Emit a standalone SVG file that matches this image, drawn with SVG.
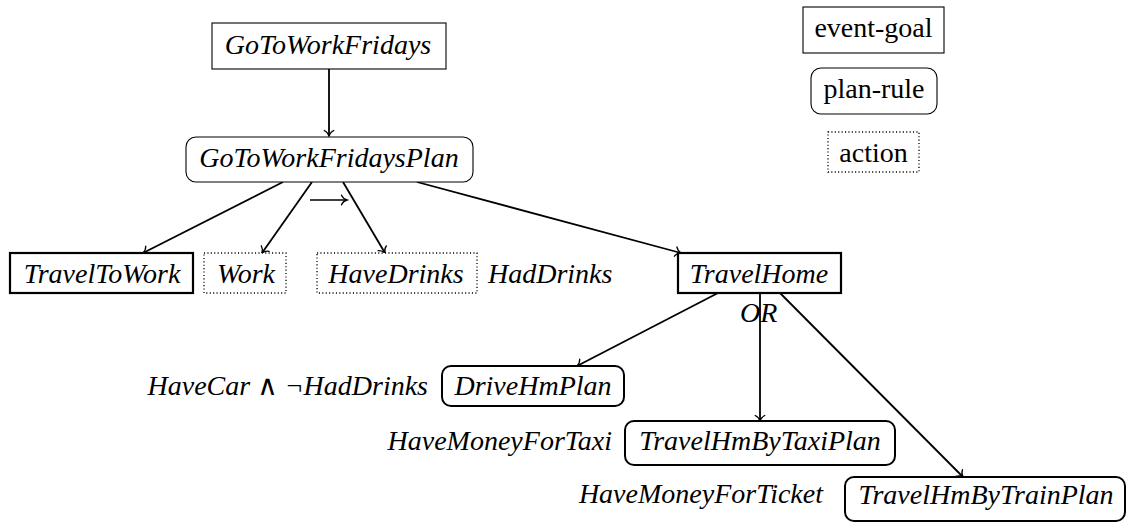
<svg xmlns="http://www.w3.org/2000/svg" width="1127" height="523" viewBox="0 0 1127 523" font-family="'Liberation Serif', 'DejaVu Serif', serif">
  <defs>
    <marker id="tip" markerUnits="userSpaceOnUse" markerWidth="14" markerHeight="14" refX="0" refY="0" viewBox="-7 -7 14 14" orient="auto" overflow="visible">
      <path d="M-5.5,-4.8 C-4.2,-2 -1.8,-0.5 0,0 C-1.8,0.5 -4.2,2 -5.5,4.8" fill="none" stroke="#000" stroke-width="1.3" stroke-linecap="round"/>
    </marker>
  </defs>
  <style>
    .t { font-family: 'Liberation Serif', 'DejaVu Serif', serif; font-size: 28px; fill: #000; }
    .i { font-style: italic; }
    .m { text-anchor: middle; }
    .e { text-anchor: end; }
    .goal { fill: #fff; stroke: #000; stroke-width: 1.1; }
    .goal2 { fill: #fff; stroke: #000; stroke-width: 2.2; }
    .plan { fill: #fff; stroke: #000; stroke-width: 1.1; }
    .plan2 { fill: #fff; stroke: #000; stroke-width: 2; }
    .act { fill: #fff; stroke: #000; stroke-width: 1.3; stroke-dasharray: 1.1 2.3; }
    .edge { fill: none; stroke: #000; stroke-width: 1.8; marker-end: url(#tip); }
  </style>
  <rect width="1127" height="523" fill="#fff"/>

  <!-- connectors -->
  <g id="edges">
    <line class="edge" x1="329" y1="69" x2="329" y2="136"/>
    <line class="edge" x1="283" y1="182" x2="143" y2="253"/>
    <line class="edge" x1="312" y1="182" x2="262" y2="253"/>
    <line class="edge" x1="343" y1="182" x2="385" y2="253"/>
    <line class="edge" x1="417" y1="182" x2="681" y2="253"/>
    <line class="edge" x1="718" y1="293" x2="577" y2="366"/>
    <line class="edge" x1="760" y1="293" x2="760" y2="421"/>
    <line class="edge" x1="780" y1="293" x2="963" y2="477"/>
    <!-- sequence operator between the ordered steps -->
    <line x1="310" y1="200" x2="347" y2="200" stroke="#000" stroke-width="1.3" marker-end="url(#tip)"/>
  </g>

  <!-- legend -->
  <g id="legend-event-goal">
    <rect class="goal" x="803" y="7" width="141" height="46"/>
    <text class="t m" x="873.5" y="37">event-goal</text>
  </g>
  <g id="legend-plan-rule">
    <rect class="plan" x="811" y="68" width="126" height="46" rx="10"/>
    <text class="t m" x="874" y="98">plan-rule</text>
  </g>
  <g id="legend-action">
    <rect class="act" x="828" y="132" width="91" height="40"/>
    <text class="t m" x="873.5" y="162">action</text>
  </g>

  <!-- goal tree -->
  <g id="GoToWorkFridays">
    <rect class="goal" x="212" y="23" width="234" height="46"/>
    <text class="t i m" x="328" y="54">GoToWorkFridays</text>
  </g>
  <g id="GoToWorkFridaysPlan">
    <rect class="plan" x="186" y="137" width="287" height="45" rx="10"/>
    <text class="t i m" x="329" y="167">GoToWorkFridaysPlan</text>
  </g>
  <g id="TravelToWork">
    <rect class="goal2" x="10" y="253" width="183" height="40"/>
    <text class="t i m" x="102" y="283">TravelToWork</text>
  </g>
  <g id="Work">
    <rect class="act" x="204" y="253" width="82" height="40"/>
    <text class="t i m" x="246" y="283">Work</text>
  </g>
  <g id="HaveDrinks">
    <rect class="act" x="317" y="253" width="160" height="40"/>
    <text class="t i m" x="396" y="283">HaveDrinks</text>
  </g>
  <text id="HadDrinks" class="t i" x="488" y="283">HadDrinks</text>
  <g id="TravelHome">
    <rect class="goal2" x="678" y="253" width="163" height="40"/>
    <text class="t i m" x="759" y="283">TravelHome</text>
  </g>
  <text id="OR" class="t i" x="740" y="322">OR</text>

  <g id="DriveHmPlan">
    <text class="t i e" x="428" y="395">HaveCar ∧ ¬HadDrinks</text>
    <rect class="plan2" x="442" y="366" width="182" height="40" rx="9"/>
    <text class="t i m" x="533" y="395">DriveHmPlan</text>
  </g>
  <g id="TravelHmByTaxiPlan">
    <text class="t i e" x="612" y="450">HaveMoneyForTaxi</text>
    <rect class="plan2" x="625" y="421" width="270" height="44" rx="9"/>
    <text class="t i m" x="760" y="450">TravelHmByTaxiPlan</text>
  </g>
  <g id="TravelHmByTrainPlan">
    <text class="t i e" x="823" y="503">HaveMoneyForTicket</text>
    <rect class="plan2" x="845" y="477" width="280" height="44" rx="9"/>
    <text class="t i m" x="986" y="504">TravelHmByTrainPlan</text>
  </g>
</svg>
